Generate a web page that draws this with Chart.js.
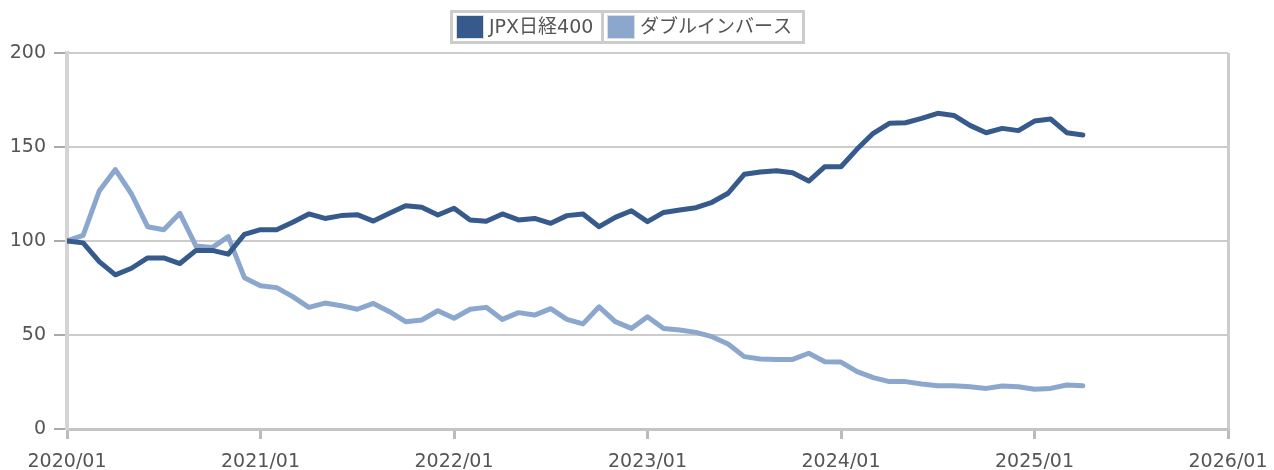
<!DOCTYPE html>
<html>
<head>
<meta charset="utf-8">
<script src="https://cdn.jsdelivr.net/npm/chart.js@4"></script>
<style>
  html, body { margin: 0; padding: 0; background: #fff; }
  #wrap { width: 1274px; height: 470px; }
</style>
</head>
<body>
<div id="wrap"><canvas id="chart"></canvas></div>
<script>
// monthly index values, 2020/01 .. 2025/04
const seriesNames = ["JPX日経400", "ダブルインバース"];
const tickLabels = ["2020/01", "2021/01", "2022/01", "2023/01", "2024/01", "2025/01", "2026/01"];
const jpx400 = [
  100, 99, 89, 82, 85.5, 91, 91, 88, 95, 95, 93, 103.5,
  106, 106, 110, 114.4, 112, 113.5, 114, 110.6, 114.7, 118.8, 118, 113.8,
  117.4, 111.2, 110.5, 114.4, 111.2, 112, 109.4, 113.5, 114.4, 107.6, 112.6, 116.1,
  110.3, 115.2, 116.5, 117.7, 120.6, 125.4, 135.5, 136.7, 137.4, 136.3, 131.9, 139.5,
  139.5, 148.9, 157.3, 162.6, 162.9, 165.2, 167.9, 166.8, 161.5, 157.6, 159.9, 158.7,
  163.8, 164.9, 157.6, 156.4
];
const doubleInverse = [
  100, 103, 126.6, 138, 125, 107.6, 106, 114.7, 97.3, 96.5, 102.3, 80.5,
  76.2, 75.2, 70.4, 64.7, 67, 65.6, 63.7, 66.8, 62.4, 57.1, 58, 62.9,
  58.9, 63.7, 64.7, 58.3, 61.9, 60.6, 64, 58.3, 55.9, 65, 57.1, 53.5,
  59.7, 53.5, 52.7, 51.4, 49.1, 45.2, 38.5, 37.2, 37, 37, 40.3, 35.8,
  35.6, 30.5, 27.3, 25.2, 25.2, 23.9, 23, 23, 22.5, 21.6, 22.9, 22.5,
  21.1, 21.6, 23.4, 23
];
const colors = ["#355a8b", "#8ca7ce"];

Chart.defaults.font.family = "'DejaVu Sans', 'Noto Sans CJK JP', sans-serif";
Chart.defaults.font.size = 19;
Chart.defaults.color = "#555";

const toPoints = arr => arr.map((v, i) => ({ x: i, y: v }));

// boxed legend drawn above the plot
const boxLegend = {
  id: "boxLegend",
  afterDraw(chart) {
    const c = chart.ctx;
    const ds = chart.data.datasets;
    const textW = [108, 158];
    c.save();
    c.font = "19px 'DejaVu Sans', 'Noto Sans CJK JP', sans-serif";
    const widths = ds.map((d, i) => 4 + 26 + 6 + textW[i] + 4);
    const total = widths.reduce((a, b) => a + b, 0) + 3 * (ds.length + 1);
    let x = 450;
    const top = 10, h = 34;
    c.fillStyle = "#cccccc";
    c.fillRect(x, top, total, h);
    x += 3;
    ds.forEach((d, i) => {
      c.fillStyle = "#fff";
      c.fillRect(x, top + 3, widths[i], h - 6);
      c.fillStyle = "#ddd";
      c.fillRect(x + 3, top + 5, 28, 24);
      c.fillStyle = d.borderColor;
      c.fillRect(x + 4, top + 6, 26, 22);
      c.fillStyle = "#555";
      c.textBaseline = "middle";
      c.fillText(d.label, x + 36, top + h / 2 + 1, textW[i]);
      x += widths[i] + 3;
    });
    c.restore();
  }
};

new Chart(document.getElementById("chart"), {
  type: "line",
  data: {
    datasets: [
      { label: seriesNames[0], data: toPoints(jpx400), borderColor: colors[0], backgroundColor: colors[0] },
      { label: seriesNames[1], data: toPoints(doubleInverse), borderColor: colors[1], backgroundColor: colors[1] }
    ]
  },
  options: {
    responsive: true,
    maintainAspectRatio: false,
    animation: false,
    layout: { padding: { top: 53, right: 46, left: 0, bottom: 0 } },
    elements: {
      line: { borderWidth: 5, tension: 0, borderJoinStyle: "round", borderCapStyle: "round" },
      point: { radius: 0 }
    },
    plugins: {
      legend: { display: false },
      tooltip: { enabled: false }
    },
    scales: {
      x: {
        type: "linear",
        min: 0,
        max: 72,
        afterFit: s => { s.height = 41; s.paddingRight = 0; s.paddingLeft = 0; },
        ticks: {
          stepSize: 12,
          padding: 12,
          callback: v => tickLabels[v / 12]
        },
        grid: {
          color: ctx => (ctx.index === tickLabels.length - 1 ? "#cccccc" : "rgba(0,0,0,0)"),
          lineWidth: 3,
          tickColor: "#bbbbbb",
          tickLength: 10,
          tickWidth: 3
        },
        border: { color: "#c4c4c4", width: 3 }
      },
      y: {
        min: 0,
        max: 200,
        afterFit: s => { s.width = 67; },
        ticks: { stepSize: 50, padding: 8 },
        grid: {
          color: "#cccccc",
          lineWidth: 2,
          tickColor: "#aaaaaa",
          tickLength: 13,
          tickWidth: 2
        },
        border: { color: "#d4d4d4", width: 4 }
      }
    }
  },
  plugins: [boxLegend]
});
</script>
</body>
</html>
